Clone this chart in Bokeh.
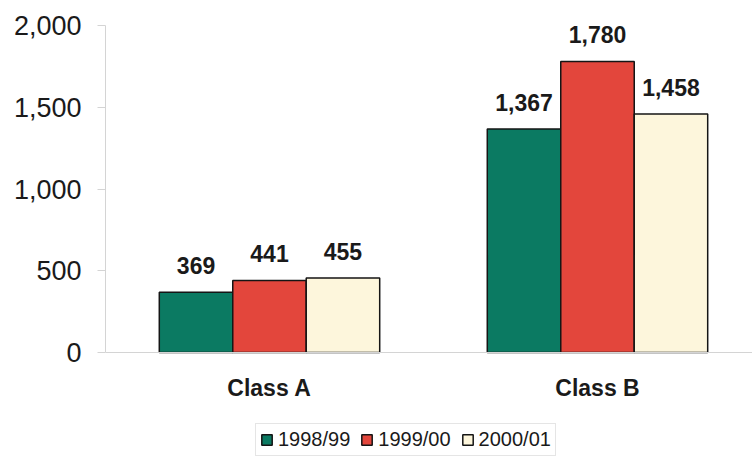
from bokeh.plotting import figure
from bokeh.models import (ColumnDataSource, Range1d, FixedTicker, NumeralTickFormatter,
                          Legend, LegendItem, LinearAxis)
from bokeh.core.properties import value
from bokeh.embed import file_html
from bokeh.resources import INLINE
import numpy as np

categories = ["Class A", "Class B"]
series_names = ["1998/99", "1999/00", "2000/01"]
values_1998 = [369, 1367]
values_1999 = [441, 1780]
values_2000 = [455, 1458]
colors = ["#0b7a62", "#e3463c", "#fdf6dc"]
y_ticks = [0, 500, 1000, 1500, 2000]

all_series = [values_1998, values_1999, values_2000]

p = figure(width=752, height=457, output_backend="svg", toolbar_location=None,
           x_range=Range1d(0, 1.9726), y_range=Range1d(-642.2, 2000),
           x_axis_location=None,
           min_border_left=105, min_border_top=25, min_border_right=0, min_border_bottom=0)
p.outline_line_color = None
p.xgrid.visible = False
p.ygrid.visible = False
p.background_fill_color = "white"

centers = np.arange(len(categories)) + 0.5
bar_w = 0.224
offsets = [-bar_w, 0.0, bar_w]

items = []
for name, vals, col, off in zip(series_names, all_series, colors, offsets):
    src = ColumnDataSource(dict(x=centers + off, top=vals,
                                label=[f"{v:,}" for v in vals]))
    r = p.vbar(x="x", top="top", bottom=0, width=bar_w, source=src,
               fill_color=col, line_color="#151515", line_width=1.5)
    p.text(x="x", y="top", text="label", source=src, text_align="center",
           text_baseline="bottom", y_offset=-18, text_font=value("Liberation Sans"),
           text_font_style="bold", text_font_size="23px", text_color="#1a1a1a")
    items.append(LegendItem(label=name, renderers=[r]))

# y axis
p.yaxis.ticker = FixedTicker(ticks=y_ticks)
p.yaxis.bounds = (0, 2000)
p.yaxis.formatter = NumeralTickFormatter(format="0,0")
p.yaxis.axis_line_color = "#d4d4d4"
p.yaxis.major_tick_line_color = "#d4d4d4"
p.yaxis.major_tick_out = 8
p.yaxis.major_tick_in = 0
p.yaxis.minor_tick_line_color = None
p.yaxis.major_label_standoff = 16
p.yaxis.major_label_text_font = "Liberation Sans"
p.yaxis.major_label_text_font_size = "27px"
p.yaxis.major_label_text_color = "#1a1a1a"

# x axis (category axis drawn at value 0)
xaxis = LinearAxis(fixed_location=0)
xaxis.ticker = FixedTicker(ticks=list(centers))
xaxis.major_label_overrides = {float(c): cat for c, cat in zip(centers, categories)}
xaxis.axis_line_color = "#d4d4d4"
xaxis.major_tick_line_color = None
xaxis.minor_tick_line_color = None
xaxis.major_tick_out = 0
xaxis.major_label_standoff = 22
xaxis.major_label_text_font = "Liberation Sans"
xaxis.major_label_text_font_style = "bold"
xaxis.major_label_text_font_size = "23px"
xaxis.major_label_text_color = "#1a1a1a"
p.add_layout(xaxis, "below")

legend = Legend(items=items, orientation="horizontal", location=(150, 1),
                label_text_font="Liberation Sans", label_text_font_size="20px",
                label_text_color="#1a1a1a", glyph_width=13, glyph_height=13,
                label_standoff=5, spacing=10, padding=4, margin=0,
                border_line_color="#cccccc", border_line_width=1,
                label_height=20)
p.add_layout(legend, "center")

open("out.html", "w").write(file_html(p, INLINE))
